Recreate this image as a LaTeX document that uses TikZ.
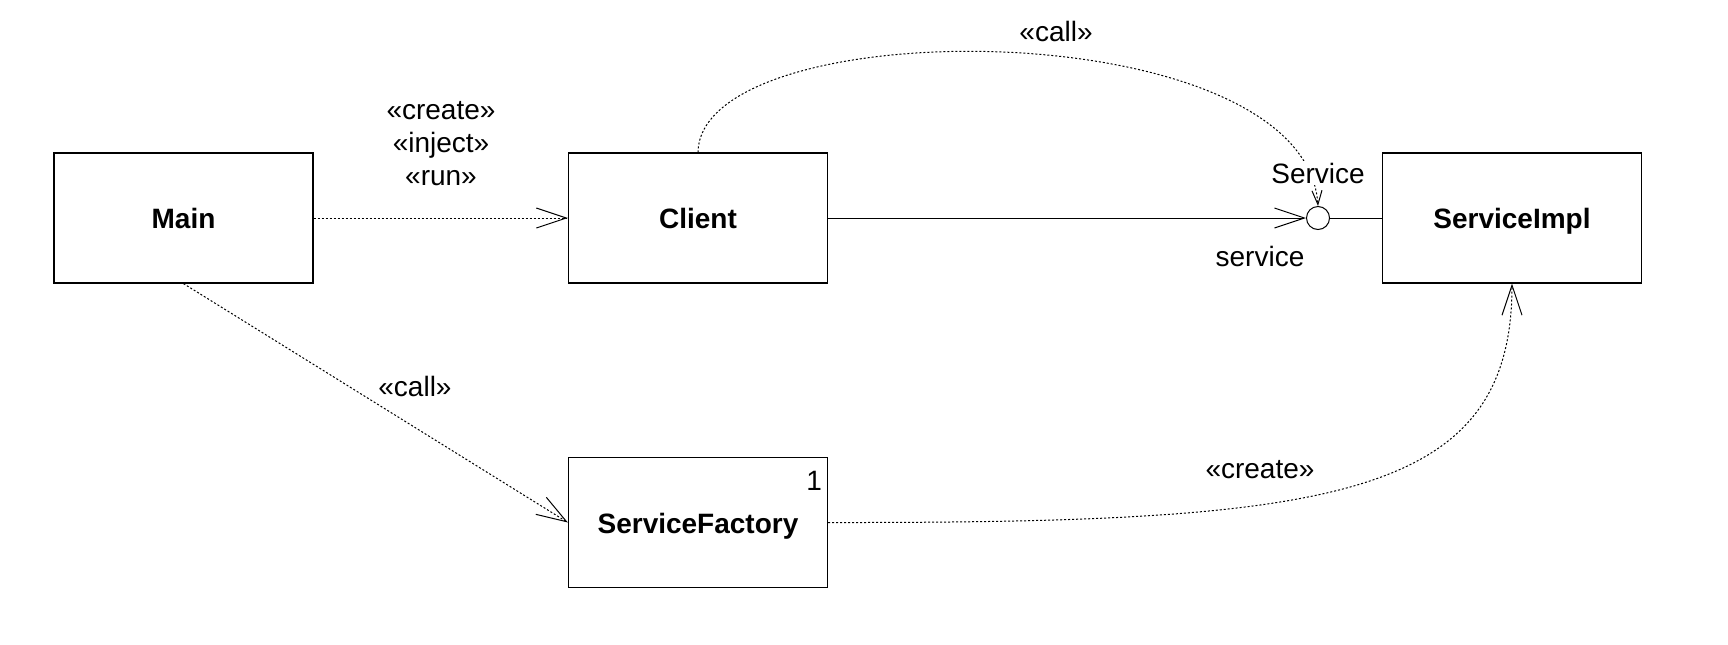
\documentclass[tikz,border=0pt]{standalone}
\usepackage{fontspec}
\setmainfont{Liberation Sans}
\usetikzlibrary{arrows.meta}

\begin{document}
\begin{tikzpicture}[x=0.5pt,y=-0.5pt,
    cls/.style={draw,line width=0.6pt,minimum width=129.5pt,minimum height=65pt,
      text height=10.5pt,text depth=0pt,
      font=\fontsize{14}{16.5}\selectfont\bfseries},
    lbl/.style={font=\fontsize{14}{16.5}\selectfont,inner sep=1pt},
    dep/.style={line width=0.5pt,dash pattern=on 1pt off 1pt,
      -{Straight Barb[length=15pt,width=10pt]}},
    assoc/.style={line width=0.5pt}]

  \useasboundingbox (0,0) rectangle (1728,644);

  % classes
  \node[cls] (main)    at (183.5,218) {Main};
  \node[cls] (client)  at (698,218)   {Client};
  \node[cls] (impl)    at (1512,218)  {ServiceImpl};
  \node[cls] (factory) at (698,522.5) {ServiceFactory};
  \node[lbl] (mult) at ([xshift=-7pt,yshift=-12pt]factory.north east) {1};

  % provided interface
  \node[draw,circle,line width=0.5pt,minimum size=11.5pt,inner sep=0pt] (lolli) at (1318,218) {};

  % connectors
  \draw[dep] (main.east) -- (client.west);
  \draw[dep] (main.south) -- (factory.west);
  \draw[assoc,-{Straight Barb[length=15pt,width=10pt]}] (client.east) -- (lolli.west);
  \draw[assoc] (lolli.east) -- (impl.west);
  \draw[dep,-{Straight Barb[length=7pt,width=5pt]}] (client.north)
    .. controls (700,10) and (1305,10) .. (lolli.north);
  \draw[dep] (factory.east) .. controls (1330,523) and (1512,500) .. (impl.south);

  % labels
  \node[lbl,align=center] (mainlbl) at (441,144) {«create»\\«inject»\\«run»};
  \node[lbl] (calllbl)   at (415,386)  {«call»};
  \node[lbl] (toplbl)    at (1056,31)  {«call»};
  \node[lbl] (createlbl) at (1260,470) {«create»};
  \node[lbl,fill=white] (iface) at (1318,173) {Service};
  \node[lbl] (role)      at (1260,256) {service};

\end{tikzpicture}
\end{document}
